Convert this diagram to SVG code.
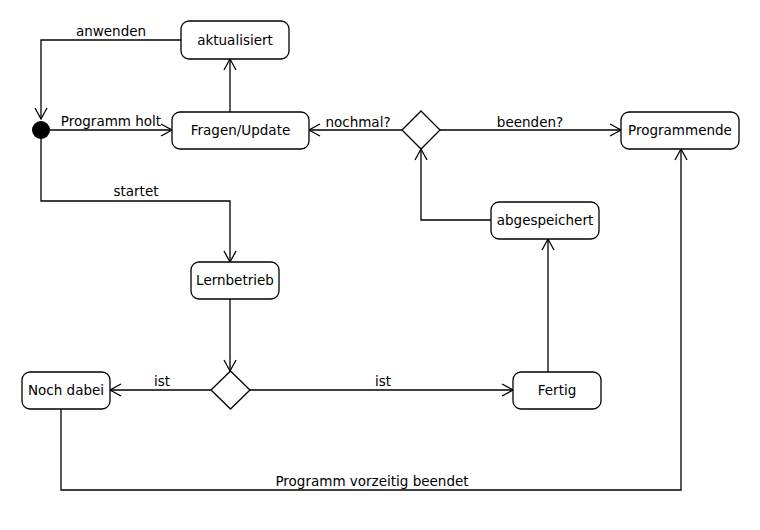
<svg xmlns="http://www.w3.org/2000/svg" width="760" height="530" viewBox="0 0 760 530">
<defs>
<marker id="arr" markerWidth="14" markerHeight="14" refX="12" refY="7" orient="auto" markerUnits="userSpaceOnUse">
<polyline points="1,1 12,7 1,13" fill="none" stroke="#000" stroke-width="1.3"/>
</marker>
<style>
.node rect{fill:#fff;stroke:#000;stroke-width:1.3}
.node text{font-family:"DejaVu Sans",sans-serif;font-size:13.5px;text-anchor:middle;fill:#000}
.edge{fill:none;stroke:#000;stroke-width:1.3}
.lbl{font-family:"DejaVu Sans",sans-serif;font-size:13.5px;text-anchor:middle;fill:#000}
.dia{fill:#fff;stroke:#000;stroke-width:1.3}
</style>
</defs>
<rect width="760" height="530" fill="#fff"/>
<g id="connectors">
<polyline class="edge" points="181,40 41,40 41,119" marker-end="url(#arr)"/>
<line class="edge" x1="50" y1="130" x2="172" y2="130" marker-end="url(#arr)"/>
<line class="edge" x1="230" y1="112" x2="230" y2="59" marker-end="url(#arr)"/>
<polyline class="edge" points="41,137 41,201 230,201 230,262" marker-end="url(#arr)"/>
<line class="edge" x1="230" y1="299" x2="230" y2="371" marker-end="url(#arr)"/>
<line class="edge" x1="211" y1="390" x2="110" y2="390" marker-end="url(#arr)"/>
<line class="edge" x1="250" y1="390" x2="513" y2="390" marker-end="url(#arr)"/>
<line class="edge" x1="548" y1="372" x2="548" y2="239" marker-end="url(#arr)"/>
<polyline class="edge" points="491,220 421,220 421,149" marker-end="url(#arr)"/>
<line class="edge" x1="402" y1="130" x2="309" y2="130" marker-end="url(#arr)"/>
<line class="edge" x1="439" y1="130" x2="621" y2="130" marker-end="url(#arr)"/>
<polyline class="edge" points="61,409 61,490 681,490 681,149" marker-end="url(#arr)"/>
<text class="lbl" x="111" y="36">anwenden</text>
<text class="lbl" x="111" y="126">Programm holt</text>
<text class="lbl" x="136" y="196">startet</text>
<text class="lbl" x="358" y="127">nochmal?</text>
<text class="lbl" x="530" y="127">beenden?</text>
<text class="lbl" x="162" y="386">ist</text>
<text class="lbl" x="383" y="386">ist</text>
<text class="lbl" x="372" y="486">Programm vorzeitig beendet</text>
</g>
<g id="start"><circle cx="41" cy="130" r="9" fill="#000"/></g>
<g id="aktualisiert" class="node"><rect x="181" y="21" width="108" height="38" rx="8"/><text x="235" y="45">aktualisiert</text></g>
<g id="fragen" class="node"><rect x="172" y="112" width="137" height="37" rx="8"/><text x="240.5" y="135">Fragen/Update</text></g>
<g id="entscheidung1"><polygon class="dia" points="421,111 440,130 421,149 402,130"/></g>
<g id="programmende" class="node"><rect x="621" y="112" width="118" height="37" rx="8"/><text x="680" y="135">Programmende</text></g>
<g id="abgespeichert" class="node"><rect x="491" y="202" width="108" height="37" rx="8"/><text x="545" y="225">abgespeichert</text></g>
<g id="lernbetrieb" class="node"><rect x="191" y="262" width="88" height="37" rx="8"/><text x="235" y="285">Lernbetrieb</text></g>
<g id="entscheidung2"><polygon class="dia" points="230.5,371 250,390 230.5,409 211,390"/></g>
<g id="nochdabei" class="node"><rect x="22" y="372" width="88" height="37" rx="8"/><text x="66" y="395">Noch dabei</text></g>
<g id="fertig" class="node"><rect x="513" y="372" width="88" height="37" rx="8"/><text x="557" y="395">Fertig</text></g>
</svg>
